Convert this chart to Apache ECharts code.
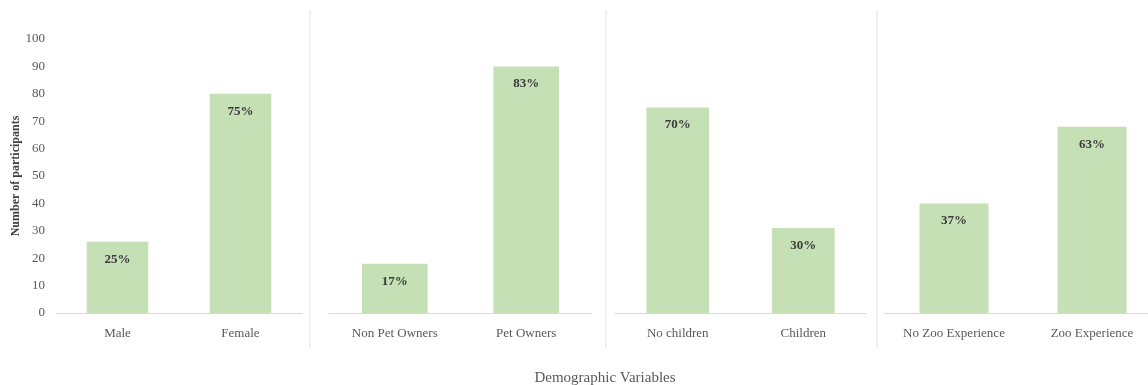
<!DOCTYPE html>
<html>
<head>
<meta charset="utf-8">
<script src="https://cdn.jsdelivr.net/npm/echarts@6/dist/echarts.min.js"></script>
<style>
  html, body { margin: 0; padding: 0; background: #ffffff; }
  #chart { width: 1148px; height: 385px; }
</style>
</head>
<body>
<div id="chart"></div>
<script>
// Demographic groups, two categories each
const genderCats = ['Male', 'Female'];
const genderCounts = [26, 80];
const genderPct = ['25%', '75%'];

const petCats = ['Non Pet Owners', 'Pet Owners'];
const petCounts = [18, 90];
const petPct = ['17%', '83%'];

const childCats = ['No children', 'Children'];
const childCounts = [75, 31];
const childPct = ['70%', '30%'];

const zooCats = ['No Zoo Experience', 'Zoo Experience'];
const zooCounts = [40, 68];
const zooPct = ['37%', '63%'];

const yTicks = [0, 10, 20, 30, 40, 50, 60, 70, 80, 90, 100];

const panels = [
  { cats: genderCats, vals: genderCounts, pct: genderPct },
  { cats: petCats, vals: petCounts, pct: petPct },
  { cats: childCats, vals: childCounts, pct: childPct },
  { cats: zooCats, vals: zooCounts, pct: zooPct }
];

const FONT = '"Liberation Serif", "DejaVu Serif", serif';
const BAR = '#c5e0b4';
const AXIS = '#d9d9d9';
const SEP = '#e3e3e3';

// Panel layout (pixels); the last panel runs past the right edge
const gridBoxes = [
  { left: 56, width: 246 },
  { left: 329, width: 263 },
  { left: 615, width: 251 },
  { left: 885, width: 276 }
];

const chart = echarts.init(document.getElementById('chart'), null, { renderer: 'canvas' });

const grids = gridBoxes.map(b => ({
  left: b.left,
  width: b.width,
  top: 39,
  height: 274,
  outerBoundsMode: 'none'
}));

const xAxes = panels.map((p, i) => ({
  type: 'category',
  gridIndex: i,
  data: p.cats,
  axisLine: { show: true, lineStyle: { color: AXIS, width: 1 } },
  axisTick: { show: false },
  axisLabel: {
    color: '#595959',
    fontFamily: FONT,
    fontSize: 13,
    margin: 14,
    interval: 0,
    hideOverlap: false
  }
}));

const yAxes = panels.map((p, i) => ({
  type: 'value',
  gridIndex: i,
  min: yTicks[0],
  max: yTicks[yTicks.length - 1],
  interval: yTicks[1] - yTicks[0],
  splitLine: { show: false },
  axisLine: { show: false },
  axisTick: { show: false },
  axisLabel: {
    show: i === 0,
    color: '#595959',
    fontFamily: FONT,
    fontSize: 13,
    margin: 11
  },
  name: i === 0 ? 'Number of participants' : '',
  nameLocation: 'middle',
  nameGap: 33,
  nameTextStyle: { color: '#404040', fontFamily: FONT, fontSize: 12, fontWeight: 'bold' }
}));

const series = panels.map((p, i) => ({
  type: 'bar',
  xAxisIndex: i,
  yAxisIndex: i,
  data: p.vals,
  barWidth: '50%',
  itemStyle: { color: BAR },
  label: {
    show: true,
    position: 'insideTop',
    distance: 11,
    color: '#3a3a3a',
    fontFamily: FONT,
    fontSize: 13,
    fontWeight: 'bold',
    formatter: params => p.pct[params.dataIndex]
  },
  silent: true
}));

// Thin vertical dividers between the panels
const dividerX = [310, 606, 877];
const graphics = dividerX.map(x => ({
  type: 'line',
  shape: { x1: x, y1: 10, x2: x, y2: 348 },
  style: { stroke: SEP, lineWidth: 1 },
  silent: true
}));
graphics.push({
  type: 'text',
  x: 605,
  y: 378,
  style: {
    text: 'Demographic Variables',
    fill: '#595959',
    font: '15px ' + FONT,
    textAlign: 'center',
    textVerticalAlign: 'middle'
  }
});

chart.setOption({
  animation: false,
  backgroundColor: '#ffffff',
  grid: grids,
  xAxis: xAxes,
  yAxis: yAxes,
  series: series,
  graphic: graphics
});
</script>
</body>
</html>
